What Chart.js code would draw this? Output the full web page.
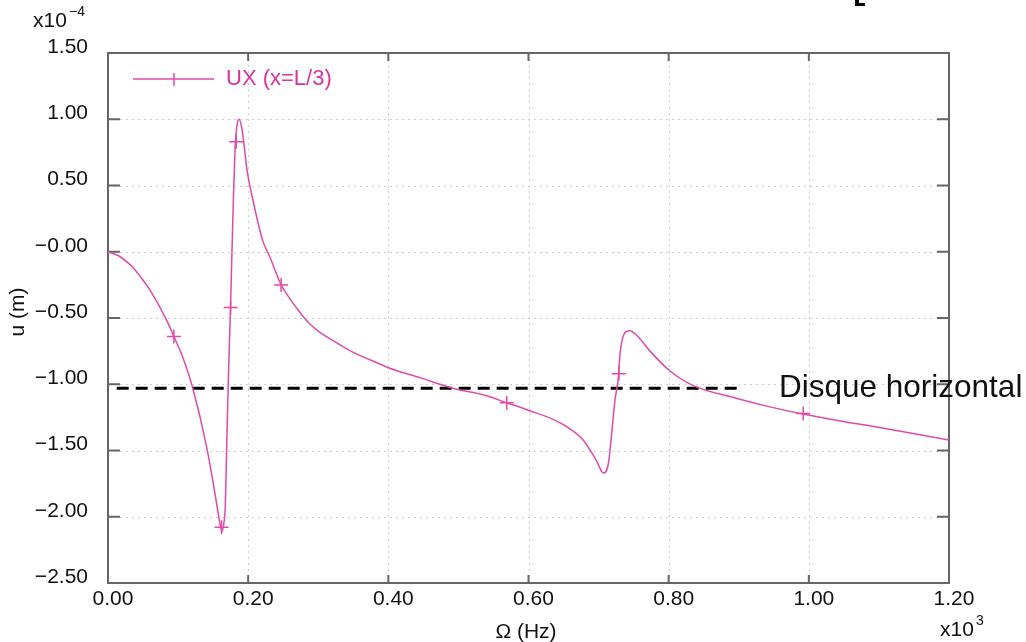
<!DOCTYPE html>
<html>
<head>
<meta charset="utf-8">
<script src="https://cdn.jsdelivr.net/npm/chart.js@4"></script>
<style>
  html, body { margin: 0; padding: 0; background: #fff; }
  #wrap { width: 1026px; height: 642px; }
</style>
</head>
<body>
<div id="wrap"><canvas id="c" width="1026" height="642"></canvas></div>
<script>
// frequency in units of 10^3 Hz, displacement in units of 10^-4 m
const freqX = [0.000, 0.015, 0.030, 0.036, 0.045, 0.060, 0.084, 0.094, 0.107, 0.121, 0.141, 0.155, 0.160, 0.1625, 0.165,
  0.1675, 0.169, 0.1717, 0.1748, 0.1788, 0.1812, 0.1837, 0.1869, 0.1907, 0.194, 0.198, 0.207, 0.221, 0.231, 0.247, 0.255,
  0.2787, 0.290, 0.3025, 0.327, 0.350, 0.374, 0.400, 0.445, 0.492, 0.540, 0.569, 0.602, 0.635, 0.6545, 0.678, 0.6973, 0.7068,
  0.7139, 0.7187, 0.7234, 0.7282, 0.7306, 0.7377, 0.7439, 0.7544, 0.7734, 0.8019, 0.8352, 0.8923, 0.940, 0.9913,
  1.0588, 1.0826, 1.200];
const uxY = [0.00, -0.03, -0.09, -0.12, -0.18, -0.29, -0.52, -0.64, -0.80, -1.03, -1.48, -1.90, -2.06, -2.11, -2.06,
  -1.90, -1.55, -0.97, -0.42, 0.38, 0.76, 0.94, 1.00, 0.94, 0.815, 0.63, 0.385, 0.08, -0.04, -0.25, -0.32,
  -0.49, -0.555, -0.609, -0.69, -0.76, -0.815, -0.875, -0.95, -1.03, -1.087, -1.14, -1.20, -1.265, -1.32, -1.42, -1.58, -1.67,
  -1.60, -1.37, -1.12, -0.95, -0.77, -0.61, -0.596, -0.63, -0.75, -0.90, -1.01, -1.10, -1.165, -1.225,
  -1.29, -1.31, -1.42];

const markX = [0.094, 0.162, 0.175, 0.183, 0.247, 0.569, 0.729, 0.992];
const markY = [-0.64, -2.08, -0.42, 0.83, -0.25, -1.14, -0.92, -1.22];

const dashX = [0.0124, 0.902];
const dashY = [-1.03, -1.03];

const pink = '#e04aa8';
const pinkText = '#d9339f';
const font = '"Liberation Sans", Arial, sans-serif';

const pts = (xs, ys) => xs.map((x, i) => ({ x: x, y: ys[i] }));

const fmt = v => {
  if (Math.abs(v) < 1e-9) return '\u22120.00';
  const s = Math.abs(v).toFixed(2);
  return v < 0 ? '\u2212' + s : s;
};

const frame = {
  id: 'frame',
  beforeDatasetsDraw(chart) {
    const { ctx, chartArea: a, scales: { x, y } } = chart;
    ctx.save();
    ctx.strokeStyle = '#cfcfcf';
    ctx.lineWidth = 1;
    ctx.setLineDash([2, 4]);
    x.ticks.forEach(t => {
      if (t.value <= x.min + 1e-9 || t.value >= x.max - 1e-9) return;
      const px = Math.round(x.getPixelForValue(t.value)) + 0.5;
      ctx.beginPath(); ctx.moveTo(px, a.top); ctx.lineTo(px, a.bottom); ctx.stroke();
    });
    y.ticks.forEach(t => {
      if (t.value <= y.min + 1e-9 || t.value >= y.max - 1e-9) return;
      const py = Math.round(y.getPixelForValue(t.value)) + 0.5;
      ctx.beginPath(); ctx.moveTo(a.left, py); ctx.lineTo(a.right, py); ctx.stroke();
    });
    ctx.setLineDash([]);
    ctx.strokeStyle = '#666';
    ctx.lineWidth = 2;
    ctx.strokeRect(a.left, a.top, a.right - a.left, a.bottom - a.top);
    y.ticks.forEach(t => {
      const py = y.getPixelForValue(t.value);
      ctx.beginPath(); ctx.moveTo(a.left, py); ctx.lineTo(a.left + 12, py); ctx.stroke();
      ctx.beginPath(); ctx.moveTo(a.right, py); ctx.lineTo(a.right - 12, py); ctx.stroke();
    });
    x.ticks.forEach(t => {
      const px = x.getPixelForValue(t.value);
      ctx.beginPath(); ctx.moveTo(px, a.bottom); ctx.lineTo(px, a.bottom - 8); ctx.stroke();
      ctx.beginPath(); ctx.moveTo(px, a.top); ctx.lineTo(px, a.top + 8); ctx.stroke();
    });
    ctx.restore();
  },
  afterDraw(chart) {
    const { ctx } = chart;
    ctx.save();
    // legend
    ctx.strokeStyle = pink;
    ctx.lineWidth = 1.5;
    ctx.beginPath(); ctx.moveTo(133, 79); ctx.lineTo(214, 79); ctx.stroke();
    ctx.beginPath(); ctx.moveTo(174, 73); ctx.lineTo(174, 86); ctx.stroke();
    ctx.fillStyle = pinkText;
    ctx.font = '22px ' + font;
    ctx.textBaseline = 'middle';
    ctx.textAlign = 'left';
    ctx.fillText('UX (x=L/3)', 226, 79);

    ctx.fillStyle = '#111';
    ctx.font = '31.5px ' + font;
    ctx.fillText('Disque horizontal', 779, 388);

    ctx.font = '21px ' + font;
    ctx.fillText('x10', 33, 21);
    ctx.font = '14px ' + font;
    ctx.fillText('\u22124', 69, 12);

    ctx.font = '21px ' + font;
    ctx.textAlign = 'center';
    ctx.fillText('\u03A9 (Hz)', 526, 632);
    ctx.textAlign = 'left';
    ctx.fillText('x10', 940, 630);
    ctx.font = '14px ' + font;
    ctx.fillText('3', 976, 621);

    ctx.font = '21px ' + font;
    ctx.translate(18, 312);
    ctx.rotate(-Math.PI / 2);
    ctx.textAlign = 'center';
    ctx.fillText('u (m)', 0, 0);
    ctx.restore();

    // fragment of a bracket cut by the top edge
    ctx.save();
    ctx.fillStyle = '#000';
    ctx.fillRect(855, 0, 4, 6);
    ctx.fillRect(855, 3, 10, 3);
    ctx.restore();
  }
};

new Chart(document.getElementById('c'), {
  type: 'line',
  data: {
    datasets: [
      {
        label: 'UX (x=L/3)',
        data: pts(freqX, uxY),
        borderColor: pink,
        borderWidth: 1.5,
        pointRadius: 0,
        cubicInterpolationMode: 'monotone',
        fill: false
      },
      {
        label: 'markers',
        data: pts(markX, markY),
        showLine: false,
        pointStyle: 'cross',
        pointRadius: 7,
        pointBorderWidth: 1.5,
        pointBorderColor: pink,
        pointBackgroundColor: pink
      },
      {
        label: 'Disque horizontal',
        data: pts(dashX, dashY),
        borderColor: '#000',
        borderWidth: 3,
        borderDash: [12, 7],
        pointRadius: 0,
        fill: false
      }
    ]
  },
  options: {
    responsive: false,
    animation: false,
    layout: { padding: { top: 53, right: 77, left: 0, bottom: 0 } },
    plugins: { legend: { display: false }, tooltip: { enabled: false } },
    scales: {
      x: {
        type: 'linear',
        min: 0,
        max: 1.2,
        afterFit: s => { s.height = 59; },
        grid: { display: false, drawTicks: false },
        border: { display: false },
        ticks: {
          stepSize: 0.2,
          padding: 4,
          labelOffset: 5,
          color: '#111',
          font: { family: font, size: 21 },
          callback: v => v.toFixed(2),
          maxRotation: 0
        }
      },
      y: {
        min: -2.5,
        max: 1.5,
        afterFit: s => { s.width = 108; },
        grid: { display: false, drawTicks: false },
        border: { display: false },
        ticks: {
          stepSize: 0.5,
          padding: 20,
          labelOffset: -6,
          color: '#111',
          font: { family: font, size: 21 },
          callback: v => fmt(v)
        }
      }
    }
  },
  plugins: [frame]
});
</script>
</body>
</html>
